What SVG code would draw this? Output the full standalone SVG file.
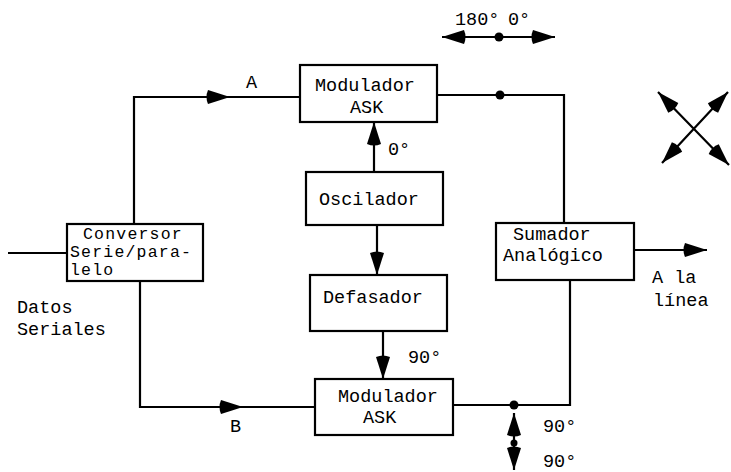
<svg xmlns="http://www.w3.org/2000/svg" xmlns:xlink="http://www.w3.org/1999/xlink" width="731" height="472" viewBox="0 0 731 472">
<style>
.box{fill:#fff;stroke:#000;stroke-width:2.2}
.ln{fill:none;stroke:#000;stroke-width:2.2}
text{font-family:"Liberation Mono","DejaVu Sans Mono",monospace;font-size:18.5px;fill:#000}
.tight{font-size:16.5px;letter-spacing:1.2px}
.ah{fill:#000}
</style>
<defs>
<path id="ah" d="M0,0 L-22,-7 Q-25,0 -22,7 Z"/>
</defs>
<rect width="731" height="472" fill="#fff"/>
<g id="connectors">
<path class="ln" d="M8,253 H67"/>
<path class="ln" d="M134,224 V97 H300"/>
<path class="ln" d="M140,281 V407 H315"/>
<path class="ln" d="M437,95 H564 V223"/>
<path class="ln" d="M453,405 H570 V280"/>
<path class="ln" d="M634,250 H707"/>
<path class="ln" d="M374,172 V122"/>
<path class="ln" d="M377,225 V275"/>
<path class="ln" d="M383,331 V379"/>
<path class="ln" d="M442,37 H555"/>
<path class="ln" d="M514,413 V470"/>
<path class="ln" d="M658,92 L729,165 M728,92 L662,163"/>
<use href="#ah" class="ah" transform="translate(230,97)"/>
<use href="#ah" class="ah" transform="translate(243,407)"/>
<use href="#ah" class="ah" transform="translate(707,250)"/>
<use href="#ah" class="ah" transform="translate(374,122) rotate(-90)"/>
<use href="#ah" class="ah" transform="translate(377,275) rotate(90)"/>
<use href="#ah" class="ah" transform="translate(383,379) rotate(90)"/>
<use href="#ah" class="ah" transform="translate(442,37) rotate(180)"/>
<use href="#ah" class="ah" transform="translate(555,37)"/>
<use href="#ah" class="ah" transform="translate(514,413) rotate(-90)"/>
<use href="#ah" class="ah" transform="translate(514,470) rotate(90)"/>
<use href="#ah" class="ah" transform="translate(658,92) rotate(-134)"/>
<use href="#ah" class="ah" transform="translate(728,92) rotate(-47)"/>
<use href="#ah" class="ah" transform="translate(662,163) rotate(133)"/>
<use href="#ah" class="ah" transform="translate(729,165) rotate(46)"/>
<circle cx="500" cy="95" r="4.5"/>
<circle cx="514" cy="405" r="4.5"/>
<circle cx="499" cy="37" r="4.5"/>
<circle cx="514" cy="443" r="3.5"/>
</g>
<g id="modulador-a">
<rect class="box" x="300" y="65" width="137" height="57"/>
<text x="315" y="91">Modulador</text>
<text x="350" y="113">ASK</text>
</g>
<g id="oscilador">
<rect class="box" x="306" y="172" width="137" height="53"/>
<text x="319" y="205">Oscilador</text>
</g>
<g id="defasador">
<rect class="box" x="310" y="275" width="137" height="56"/>
<text x="323" y="303">Defasador</text>
</g>
<g id="modulador-b">
<rect class="box" x="315" y="379" width="138" height="56"/>
<text x="338" y="402">Modulador</text>
<text x="363" y="423">ASK</text>
</g>
<g id="conversor">
<rect class="box" x="67" y="224" width="136" height="57"/>
<text class="tight" x="83" y="239">Conversor</text>
<text class="tight" x="70" y="257">Serie/para-</text>
<text class="tight" x="70" y="275">lelo</text>
</g>
<g id="sumador">
<rect class="box" x="496" y="223" width="138" height="57"/>
<text x="513" y="240">Sumador</text>
<text x="503" y="261">Analógico</text>
</g>
<g id="labels">
<text x="246" y="88">A</text>
<text x="230" y="432">B</text>
<text x="388" y="155">0°</text>
<text x="408" y="363">90°</text>
<text x="17" y="313">Datos</text>
<text x="17" y="335">Seriales</text>
<text x="652" y="283">A la</text>
<text x="653" y="306">línea</text>
<text x="543" y="432">90°</text>
<text x="543" y="467">90°</text>
<text x="455" y="25">180°</text>
<text x="508" y="25">0°</text>
</g>
</svg>
